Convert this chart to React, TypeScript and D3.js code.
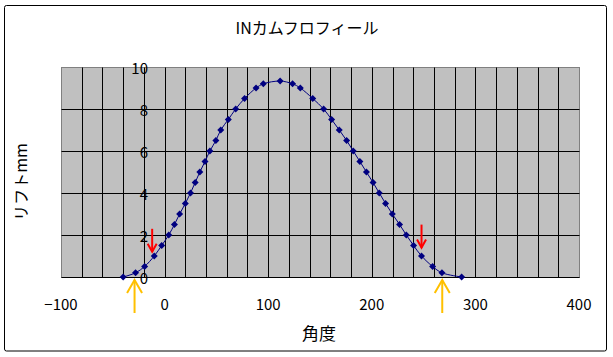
import React from "react";
import * as d3 from "d3";

const angles = [-40, -28, -19.3, -10, -2.8, 4, 9.5, 14.5, 20, 25, 29.5, 34, 39, 43.7, 49.5, 54.2, 61.5, 68.6, 77.2, 88.3, 95.3, 111.5, 123.5, 131, 143, 153.5, 161.2, 168.6, 175.7, 182.1, 188.5, 194.8, 201.2, 207.2, 213.3, 219.8, 226.8, 233.3, 240.3, 248, 258.7, 267.7, 286.7];
const lifts = [0, 0.2, 0.5, 1.0, 1.5, 2.0, 2.5, 3.0, 3.5, 4.0, 4.5, 5.0, 5.5, 6.0, 6.5, 7.0, 7.5, 8.0, 8.5, 9.0, 9.2, 9.33, 9.2, 9.0, 8.5, 8.0, 7.5, 7.0, 6.5, 6.0, 5.5, 5.0, 4.5, 4.0, 3.5, 3.0, 2.5, 2.0, 1.5, 1.0, 0.5, 0.2, 0];
const xTicks = [-100, 0, 100, 200, 300, 400];
const yTicks = [0, 2, 4, 6, 8, 10];
const redArrowAngles = [-12, 248];
const redArrowTipLifts = [1.2, 1.4];
const yellowArrowAngles = [-29, 268];
const title = "INカムフロフィール";
const xTitle = "角度";
const yTitle = "リフトmm";

const W = 613;
const H = 357;
const plot = { left: 61, right: 579, top: 67, bottom: 277 };
const font = "'Noto Sans CJK JP', 'Noto Sans', sans-serif";

export default function App() {
  const x = d3.scaleLinear().domain([-100, 400]).range([plot.left, plot.right]);
  const y = d3.scaleLinear().domain([0, 10]).range([plot.bottom, plot.top]);
  const data = angles.map((a, i) => [a, lifts[i]] as [number, number]);
  const line = d3
    .line<[number, number]>()
    .x((d) => x(d[0]))
    .y((d) => y(d[1]))
    .curve(d3.curveCatmullRom.alpha(0.5));
  const vGrid = d3.range(-80, 400, 20);
  const hGrid = [2, 4, 6, 8];

  return (
    <svg
      width={W}
      height={H}
      style={{ position: "absolute", left: 0, top: 0, background: "#fff" }}
      fontFamily={font}
    >
      <rect x={0} y={0} width={W} height={H} fill="#fff" />
      <rect x={4.5} y={5.5} width={602} height={345.5} fill="#fff" stroke="#000" strokeWidth={1} rx={2} />
      <text x={307} y={34} textAnchor="middle" fontSize={16} fill="#000">
        {title}
      </text>
      <rect
        x={plot.left + 0.5}
        y={plot.top + 0.5}
        width={plot.right - plot.left}
        height={plot.bottom - plot.top}
        fill="#C0C0C0"
        stroke="#808080"
      />
      {vGrid.map((v) => (
        <line
          key={"v" + v}
          x1={Math.round(x(v)) + 0.5}
          x2={Math.round(x(v)) + 0.5}
          y1={plot.top + 0.5}
          y2={plot.bottom + 0.5}
          stroke="#000"
          strokeWidth={1}
        />
      ))}
      {hGrid.map((v) => (
        <line
          key={"h" + v}
          x1={plot.left + 0.5}
          x2={plot.right + 0.5}
          y1={Math.round(y(v)) + 0.5}
          y2={Math.round(y(v)) + 0.5}
          stroke="#000"
          strokeWidth={1}
        />
      ))}
      <line x1={plot.left + 0.5} x2={plot.right + 0.5} y1={plot.bottom + 0.5} y2={plot.bottom + 0.5} stroke="#000" />
      {yTicks.map((t) => (
        <text key={"yt" + t} x={148} y={y(t) + 7} textAnchor="end" fontSize={15} fill="#000">
          {t}
        </text>
      ))}
      {xTicks.map((t) => (
        <text key={"xt" + t} x={x(t)} y={310} textAnchor="middle" fontSize={15} fill="#000">
          {t < 0 ? "\u2212" + Math.abs(t) : t}
        </text>
      ))}
      <text x={319} y={340} textAnchor="middle" fontSize={17} fill="#000">
        {xTitle}
      </text>
      <text
        transform={`translate(27,${182}) rotate(-90)`}
        textAnchor="middle"
        fontSize={16}
        fill="#000"
      >
        {yTitle}
      </text>
      <path d={line(data) || ""} fill="none" stroke="#000080" strokeWidth={1} />
      {data.map((d, i) => (
        <path
          key={"m" + i}
          transform={`translate(${x(d[0])},${y(d[1])})`}
          d="M0,-3.5L3.5,0L0,3.5L-3.5,0Z"
          fill="#000080"
        />
      ))}
      {redArrowAngles.map((a, i) => {
        const ax = x(a);
        const ty = y(redArrowTipLifts[i]);
        return (
          <g key={"r" + i} stroke="#FF0000" strokeWidth={2} fill="none">
            <line x1={ax} x2={ax} y1={ty - 23} y2={ty} />
            <polyline points={`${ax - 4.5},${ty - 8} ${ax},${ty} ${ax + 4.5},${ty - 8}`} />
          </g>
        );
      })}
      {yellowArrowAngles.map((a, i) => {
        const ax = x(a);
        const ty = plot.bottom + 3;
        return (
          <g key={"y" + i} stroke="#FFC000" strokeWidth={2} fill="none">
            <line x1={ax} x2={ax} y1={ty} y2={ty + 33} />
            <polyline points={`${ax - 7.5},${ty + 13} ${ax},${ty} ${ax + 7.5},${ty + 13}`} />
          </g>
        );
      })}
    </svg>
  );
}
